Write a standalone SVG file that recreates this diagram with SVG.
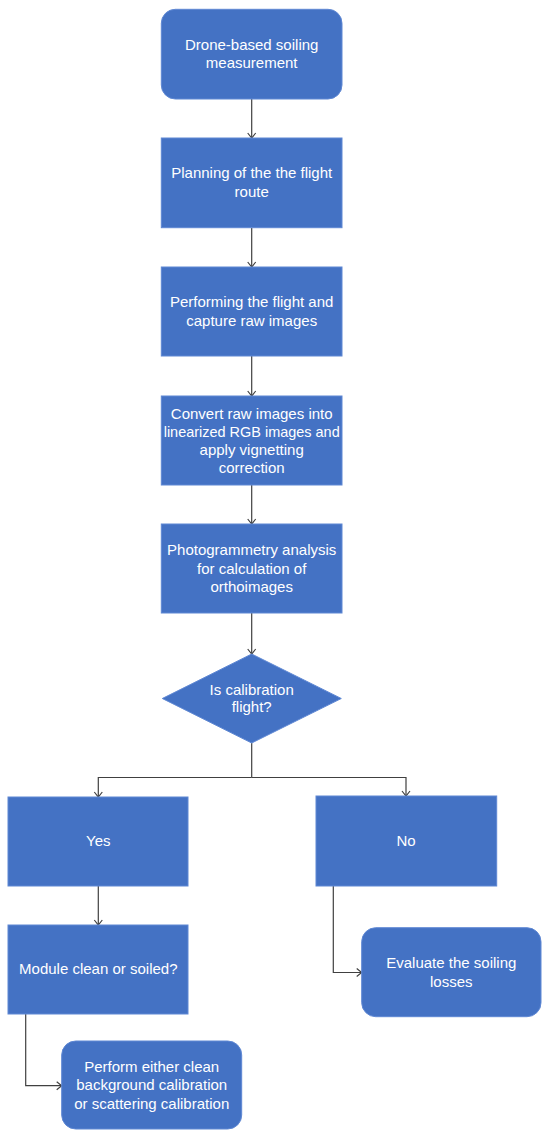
<svg xmlns="http://www.w3.org/2000/svg" width="550" height="1140" viewBox="0 0 550 1140">
<style>
.box{fill:#4472C4;stroke:#5f88d4;stroke-width:1}
.t{font-family:"Liberation Sans",Arial,sans-serif;font-size:15px;fill:#ffffff;text-anchor:middle}
.c{fill:none;stroke:#404040;stroke-width:1.2}
</style>
<defs>
<marker id="arr" markerWidth="10" markerHeight="10" refX="9" refY="5" orient="auto" markerUnits="userSpaceOnUse">
<path d="M4,1 L9,5 L4,9" fill="none" stroke="#404040" stroke-width="1.2"/>
</marker>
</defs>
<rect width="550" height="1140" fill="#ffffff"/>
<g id="connectors">
<line class="c" x1="251.7" y1="99" x2="251.7" y2="138" marker-end="url(#arr)"/>
<line class="c" x1="251.7" y1="228" x2="251.7" y2="267" marker-end="url(#arr)"/>
<line class="c" x1="251.7" y1="356" x2="251.7" y2="396" marker-end="url(#arr)"/>
<line class="c" x1="251.7" y1="485" x2="251.7" y2="524" marker-end="url(#arr)"/>
<line class="c" x1="251.7" y1="613" x2="251.7" y2="654" marker-end="url(#arr)"/>
<line class="c" x1="251.7" y1="743" x2="251.7" y2="777.5"/>
<path class="c" d="M251.7,777.5 H98.3 V797" marker-end="url(#arr)"/>
<path class="c" d="M251.7,777.5 H406 V796" marker-end="url(#arr)"/>
<line class="c" x1="98.3" y1="886" x2="98.3" y2="925" marker-end="url(#arr)"/>
<path class="c" d="M25.7,1014 V1085.7 H61.7" marker-end="url(#arr)"/>
<path class="c" d="M333.3,886 V972.5 H361.7" marker-end="url(#arr)"/>
</g>
<g id="n1">
<rect class="box" x="161.3" y="9.3" width="180.7" height="89.7" rx="14"/>
<text class="t" x="251.7" y="50">Drone-based soiling</text>
<text class="t" x="251.7" y="68">measurement</text>
</g>
<g id="n2">
<rect class="box" x="161.3" y="138" width="180.7" height="89.7"/>
<text class="t" x="251.7" y="178.3">Planning of the the flight</text>
<text class="t" x="251.7" y="196.7">route</text>
</g>
<g id="n3">
<rect class="box" x="161.3" y="267" width="180.7" height="89"/>
<text class="t" x="251.7" y="307.3">Performing the flight and</text>
<text class="t" x="251.7" y="325.7">capture raw images</text>
</g>
<g id="n4">
<rect class="box" x="161.3" y="396" width="180.7" height="89"/>
<text class="t" x="251.7" y="418.5">Convert raw images into</text>
<text class="t" x="251.7" y="436.5" textLength="176" lengthAdjust="spacingAndGlyphs">linearized RGB images and</text>
<text class="t" x="251.7" y="454.5">apply vignetting</text>
<text class="t" x="251.7" y="472.5">correction</text>
</g>
<g id="n5">
<rect class="box" x="161.3" y="524" width="180.7" height="89"/>
<text class="t" x="251.7" y="555">Photogrammetry analysis</text>
<text class="t" x="251.7" y="573.5">for calculation of</text>
<text class="t" x="251.7" y="592">orthoimages</text>
</g>
<g id="n6">
<polygon class="box" points="251.7,654 341.3,698.5 251.7,743 162.3,698.5"/>
<text class="t" x="251.7" y="694.5">Is calibration</text>
<text class="t" x="251.7" y="712">flight?</text>
</g>
<g id="n7">
<rect class="box" x="8" y="797" width="180" height="89"/>
<text class="t" x="98.3" y="846">Yes</text>
</g>
<g id="n8">
<rect class="box" x="316" y="796" width="180.7" height="90"/>
<text class="t" x="406" y="846">No</text>
</g>
<g id="n9">
<rect class="box" x="8" y="925" width="180" height="89"/>
<text class="t" x="98.3" y="974">Module clean or soiled?</text>
</g>
<g id="n10">
<rect class="box" x="361.7" y="927.7" width="179.3" height="89" rx="14"/>
<text class="t" x="451.3" y="968">Evaluate the soiling</text>
<text class="t" x="451.3" y="986.5">losses</text>
</g>
<g id="n11">
<rect class="box" x="61.7" y="1041" width="180" height="88" rx="14"/>
<text class="t" x="151.7" y="1072">Perform either clean</text>
<text class="t" x="151.7" y="1090.3">background calibration</text>
<text class="t" x="151.7" y="1108.6">or scattering calibration</text>
</g>
</svg>
